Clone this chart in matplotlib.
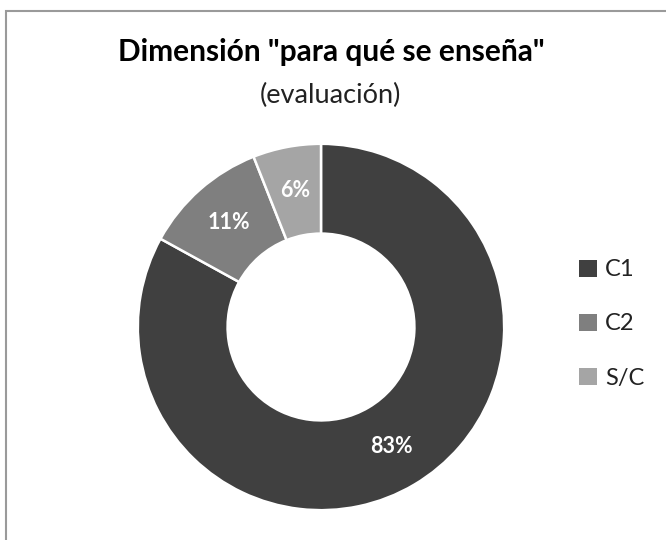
import matplotlib
matplotlib.use("Agg")
import matplotlib.pyplot as plt
from matplotlib.patches import Rectangle

plt.rcParams['font.family'] = ['Lato', 'DejaVu Sans']

labels = ['C1', 'C2', 'S/C']
values = [83, 11, 6]
colors = ['#404040', '#7f7f7f', '#a5a5a5']

fig = plt.figure(figsize=(6.66, 5.4), dpi=100)

# chart frame (cut off at right and bottom like the reference)
fig.patches.append(Rectangle((5.5 / 666, -0.1), 1.2, 1 - 11 / 540 + 0.1,
                             transform=fig.transFigure, fill=False,
                             edgecolor='#9a9a9a', linewidth=1.5))

fig.text(0.497, 1 - 52 / 540, 'Dimensión "para qué se enseña"', ha='center', va='center',
         fontsize=21.5, fontweight='bold', color='#000000')
fig.text(0.496, 1 - 95 / 540, '(evaluación)', ha='center', va='center',
         fontsize=19.5, color='#222222')

cx, cy, r = 321, 327, 185
ax = fig.add_axes([(cx - r) / 666, (540 - cy - r) / 540, 2 * r / 666, 2 * r / 540])
wedges, texts, autotexts = ax.pie(
    values, colors=colors, startangle=90, counterclock=False, radius=1,
    autopct='%1.0f%%', pctdistance=0.76,
    wedgeprops=dict(width=0.49, edgecolor='white', linewidth=1.8),
    textprops=dict(color='white', fontsize=15.5, fontweight='bold'))
ax.set_xlim(-1.01, 1.01)
ax.set_ylim(-1.01, 1.01)
ax.axis('off')

leg = fig.legend(wedges, labels, loc='center left', bbox_to_anchor=(558 / 666, 1 - 324 / 540),
                 frameon=False, fontsize=17, handlelength=0.75, handleheight=0.75,
                 handletextpad=0.35, labelspacing=1.4)
for t in leg.get_texts():
    t.set_color('#222222')
for h in leg.legend_handles:
    h.set_edgecolor('none')

fig.savefig('out.png', dpi=100, facecolor='white')
